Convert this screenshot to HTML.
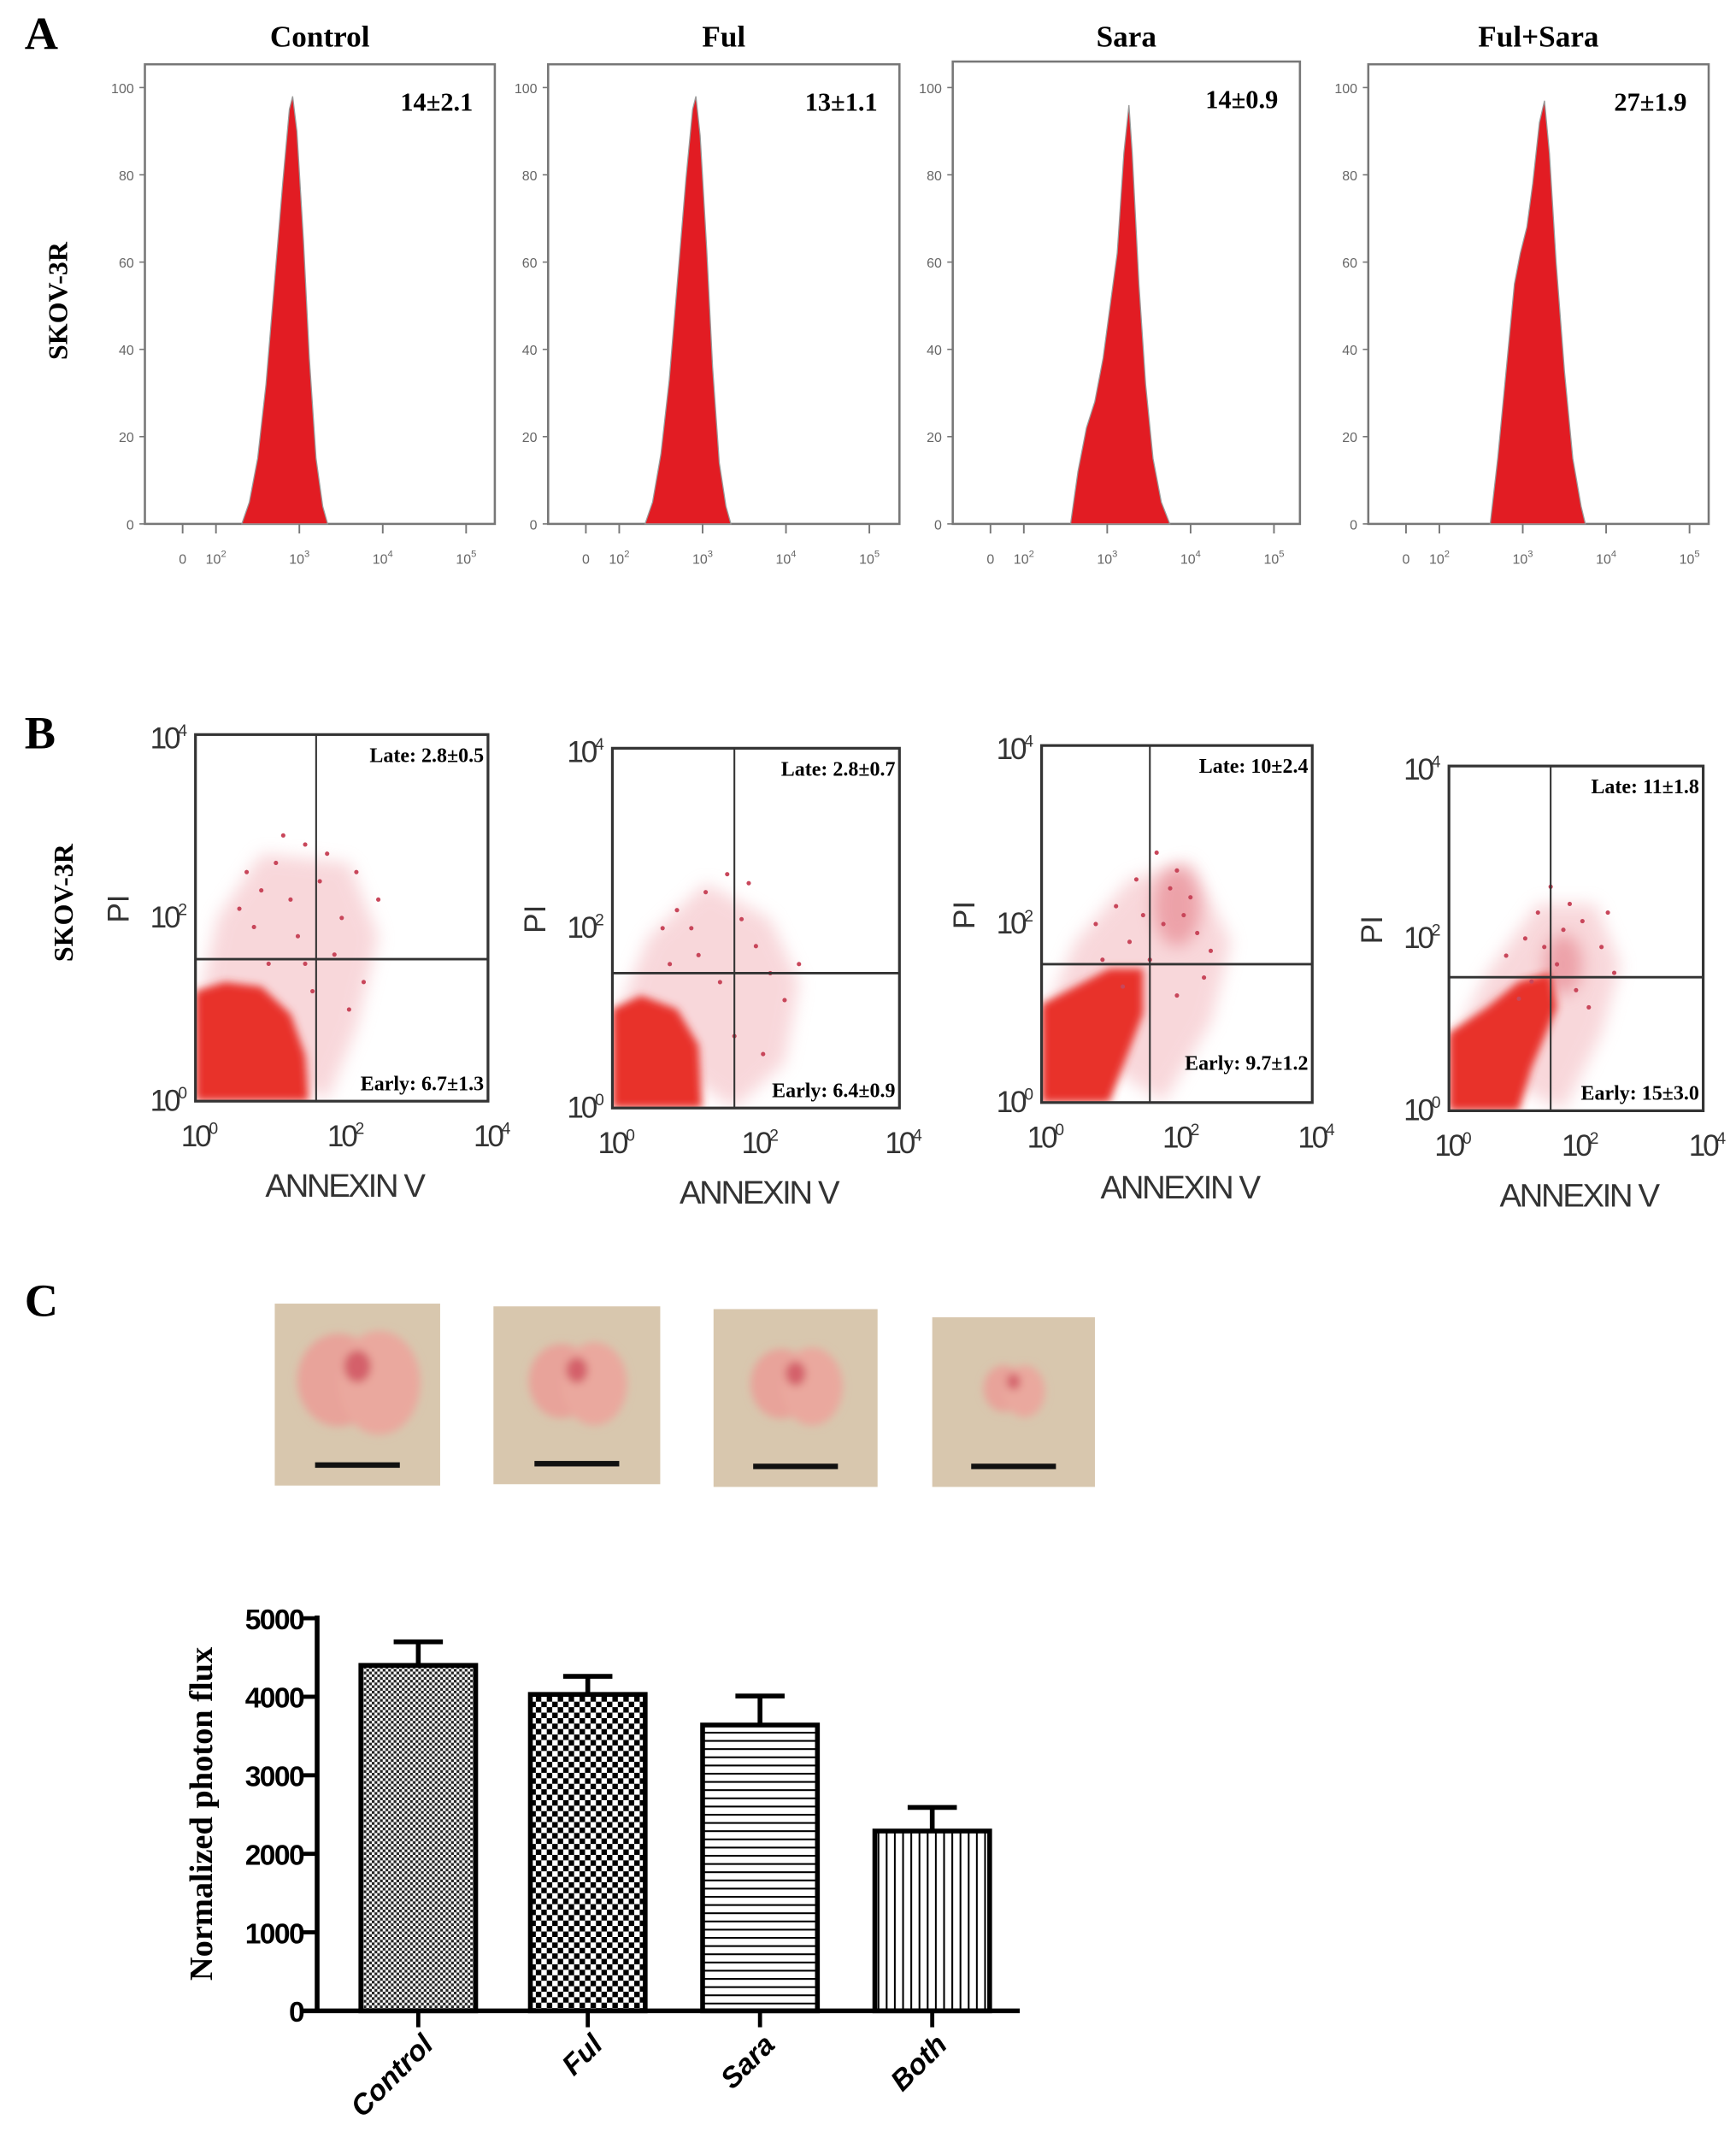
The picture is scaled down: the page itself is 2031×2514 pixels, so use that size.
<!DOCTYPE html>
<html><head><meta charset="utf-8">
<style>
html,body{margin:0;padding:0;background:#fff;}
svg{display:block;}
text{font-family:"Liberation Serif",serif;}
.sans{font-family:"Liberation Sans",sans-serif;}
</style></head>
<body>
<svg id="fig" width="2031" height="2514" viewBox="0 0 1270 1571" preserveAspectRatio="none" xmlns="http://www.w3.org/2000/svg">
<defs>
 <pattern id="pFine" width="4" height="4" patternUnits="userSpaceOnUse"><rect width="4" height="4" fill="#fff"/><rect width="2" height="2" fill="#222"/><rect x="2" y="2" width="2" height="2" fill="#222"/></pattern>
 <pattern id="pCoarse" width="8" height="8" patternUnits="userSpaceOnUse"><rect width="8" height="8" fill="#fff"/><rect width="4" height="4" fill="#000"/><rect x="4" y="4" width="4" height="4" fill="#000"/></pattern>
 <pattern id="pHoriz" width="6" height="6" patternUnits="userSpaceOnUse"><rect width="6" height="6" fill="#fff"/><rect width="6" height="1.3" fill="#000"/></pattern>
 <pattern id="pVert" width="6" height="6" patternUnits="userSpaceOnUse"><rect width="6" height="6" fill="#fff"/><rect width="1.3" height="6" fill="#000"/></pattern>
 <filter id="blur2" x="-50%" y="-50%" width="200%" height="200%"><feGaussianBlur stdDeviation="3"/></filter>
 <filter id="blur6" x="-50%" y="-50%" width="200%" height="200%"><feGaussianBlur stdDeviation="6"/></filter>
</defs>
<g id="gA"></g>
<g id="gB"></g>
<g id="gC"></g>
<g id="gD"></g>
</svg>
<script>
// ---------- Panel A data ----------
const histTitles = ["Control","Ful","Sara","Ful+Sara"];
const histStats = ["14\u00b12.1","13\u00b11.1","14\u00b10.9","27\u00b11.9"];
const histLog0 = [2.31,2.4,2.5,2.6,2.7,2.8,2.88,2.92,2.97,3.05,3.12,3.2,3.28,3.34];
const histCnt0 = [0,5,15,32,55,78,95,98,90,65,38,15,4,0];
const histLog1 = [2.31,2.4,2.5,2.6,2.7,2.8,2.88,2.92,2.97,3.05,3.12,3.2,3.28,3.34];
const histCnt1 = [0,5,16,33,56,79,95,98,89,63,36,14,4,0];
const histLog2 = [2.56,2.65,2.75,2.85,2.95,3.05,3.12,3.2,3.26,3.3,3.38,3.46,3.55,3.65,3.75];
const histCnt2 = [0,12,22,28,38,52,62,85,96,85,55,32,15,5,0];
const histLog3 = [2.61,2.7,2.8,2.9,2.97,3.05,3.12,3.2,3.26,3.32,3.4,3.5,3.6,3.7,3.75];
const histCnt3 = [0,15,35,55,62,68,78,92,97,85,60,35,15,4,0];
const histYTicks = [0,20,40,60,80,100];
const histXTicks = ["0","10","10","10","10"];
const histXExp = ["","2","3","4","5"];
const histXLog = [1.6,2,3,4,5];

// ---------- Panel B data ----------
const lateLabels = ["Late: 2.8\u00b10.5","Late: 2.8\u00b10.7","Late: 10\u00b12.4","Late: 11\u00b11.8"];
const earlyLabels = ["Early: 6.7\u00b11.3","Early: 6.4\u00b10.9","Early: 9.7\u00b11.2","Early: 15\u00b13.0"];
// dense cluster polygons [logX, logY]
const dense0 = [[0,0],[0,1.2],[0.4,1.3],[0.9,1.25],[1.3,0.95],[1.5,0.5],[1.55,0]];
const dense1 = [[0,0],[0,1.1],[0.4,1.25],[0.9,1.1],[1.2,0.7],[1.25,0]];
const dense2 = [[0,0],[0,1.1],[0.5,1.3],[1.0,1.5],[1.5,1.5],[1.5,1.0],[1.2,0.4],[1.0,0]];
const dense3 = [[0,0],[0,0.9],[0.6,1.2],[1.1,1.5],[1.6,1.6],[1.7,1.2],[1.3,0.5],[1.1,0]];
// lighter sparse halo polygons
const halo0 = [[0,0.9],[0.3,2.0],[0.9,2.7],[2.1,2.6],[2.5,1.8],[2.2,0.8],[1.8,0]];
const halo1 = [[0,0.9],[0.5,1.9],[1.3,2.5],[2.2,2.1],[2.6,1.4],[2.4,0.5],[1.7,0]];
const halo2 = [[0,0.9],[0.5,1.8],[1.3,2.5],[2.2,2.7],[2.8,1.8],[2.5,0.9],[1.8,0]];
const halo3 = [[0,0.7],[0.6,1.6],[1.4,2.4],[2.3,2.4],[2.7,1.7],[2.4,0.9],[1.8,0]];
// sparse points per plot [logX, logY]
const sparse0 = [[0.7,2.5],[0.9,2.3],[1.1,2.6],[1.3,2.2],[1.5,2.8],[1.7,2.4],[2.0,2.0],[2.2,2.5],[1.4,1.8],[0.8,1.9],[1.9,1.6],[2.3,1.3],[1.6,1.2],[2.5,2.2],[1.2,2.9],[0.6,2.1],[1.8,2.7],[2.1,1.0],[1.0,1.5],[1.5,1.5]];
const sparse1 = [[0.7,2.0],[0.9,2.2],[1.3,2.4],[1.6,2.6],[1.8,2.1],[2.0,1.8],[1.2,1.7],[2.2,1.5],[1.5,1.4],[2.4,1.2],[1.9,2.5],[1.1,2.0],[2.6,1.6],[0.8,1.6],[1.7,0.8],[2.1,0.6]];
const sparse2 = [[0.8,2.0],[1.1,2.2],[1.4,2.5],[1.7,2.8],[1.9,2.4],[2.1,2.1],[2.3,1.9],[1.6,1.6],[2.5,1.7],[1.3,1.8],[2.0,2.6],[1.8,2.0],[2.2,2.3],[0.9,1.6],[2.4,1.4],[1.5,2.1],[1.2,1.3],[2.0,1.2]];
const sparse3 = [[0.9,1.8],[1.2,2.0],[1.4,2.3],[1.6,2.6],[1.9,2.4],[2.1,2.2],[2.4,1.9],[1.7,1.7],[2.6,1.6],[1.3,1.5],[2.0,1.4],[1.8,2.1],[2.2,1.2],[1.1,1.3],[2.5,2.3],[1.5,1.9]];
// dense sub-cluster for Sara [logX, logY, rx, ry]
const subCluster = [null,null,[2.0,2.2,0.35,0.45],[1.8,1.7,0.3,0.35]];

// ---------- Bar chart data ----------
const barCats = ["Control","Ful","Sara","Both"];
const barVals = [4400,4030,3640,2290];
const barErr = [300,230,370,300];
const barTicks = [0,1000,2000,3000,4000,5000];
const barFills = ["url(#pFine)","url(#pCoarse)","url(#pHoriz)","url(#pVert)"];

const NS="http://www.w3.org/2000/svg";
function mk(tag,attrs,parent,txt){const e=document.createElementNS(NS,tag);for(const k in attrs)e.setAttribute(k,attrs[k]);if(txt!==undefined)e.textContent=txt;parent.appendChild(e);return e;}

// ---------- Panel A ----------
const gA=document.getElementById('gA');
let t=mk('text',{x:18,y:36,'font-size':34,'font-weight':'bold'},gA,'A');


t=mk('text',{x:0,y:0,'font-size':20,'font-weight':'bold','text-anchor':'middle',transform:'translate(49,220) rotate(-90)'},gA,'SKOV-3R');


const hBoxL=[106,401,697,1001], hBoxR=[362,658,951,1250], hBoxT=[47,47,45,47];
const hLogs=[histLog0,histLog1,histLog2,histLog3], hCnts=[histCnt0,histCnt1,histCnt2,histCnt3];
for(let p=0;p<4;p++){
  const L=hBoxL[p],R=hBoxR[p],T=hBoxT[p],B=383;
  const g=mk('g',{},gA);
  
  
  const xs=v=>L+52+(v-2)*61, ys=v=>B-v*3.19;
  t=mk('text',{x:(L+R)/2,y:34,'font-size':22,'font-weight':'bold','text-anchor':'middle'},g,histTitles[p]);
  
  
  const r=mk('rect',{x:L,y:T,width:R-L,height:B-T,fill:'none',stroke:'#777','stroke-width':1.6},g);
  
  
  let d='M'+xs(hLogs[p][0])+' '+B;
  hLogs[p].forEach((v,i)=>{d+=' L'+xs(v).toFixed(1)+' '+ys(hCnts[p][i]).toFixed(1);});
  d+=' Z';
  const ar=mk('path',{d:d,fill:'#e21c23',stroke:'#999','stroke-width':0.8},g);
  
  
  histYTicks.forEach(v=>{
    mk('line',{x1:L-4,x2:L,y1:ys(v),y2:ys(v),stroke:'#777','stroke-width':1},g);
    const tt=mk('text',{x:L-8,y:ys(v)+4,'font-size':10,'text-anchor':'end',fill:'#666',class:'sans'},g,String(v));
    
    
  });
  histXLog.forEach((v,i)=>{
    const x=xs(v);
    mk('line',{x1:x,x2:x,y1:B,y2:B+7,stroke:'#777','stroke-width':1.2},g);
    const tt=mk('text',{x:x,y:B+29,'font-size':10,'text-anchor':'middle',fill:'#666',class:'sans'},g,histXTicks[i]);
    
    
    if(histXExp[i]) mk('tspan',{'font-size':7,dy:-5},tt,histXExp[i]);
  });
  t=mk('text',{x:R-16,y:T+34,'font-size':19,'font-weight':'bold','text-anchor':'end'},g,histStats[p]);
  
  
}

// ---------- Panel B ----------
const gB=document.getElementById('gB');
t=mk('text',{x:18,y:547,'font-size':34,'font-weight':'bold'},gB,'B');


t=mk('text',{x:0,y:0,'font-size':20,'font-weight':'bold','text-anchor':'middle',transform:'translate(53,660) rotate(-90)'},gB,'SKOV-3R');


const sL=[143,448,762,1060], sR=[357,658,960,1246], sT=[537,547,545,560], sB=[805,810,806,812];
const qV=[1.65,1.7,1.6,1.6], qH=[1.55,1.5,1.55,1.55];
const sparseAll=[sparse0,sparse1,sparse2,sparse3];
const denseAll=[dense0,dense1,dense2,dense3], haloAll=[halo0,halo1,halo2,halo3];
for(let p=0;p<4;p++){
  const L=sL[p],R=sR[p],T=sT[p],B=sB[p];
  const g=mk('g',{},gB);
  
  
  const xs=v=>L+v*(R-L)/4, ys=v=>B-v*(B-T)/4;
  const cp=mk('clipPath',{id:'clip'+p},g);
  mk('rect',{x:L,y:T,width:R-L,height:B-T},cp);
  const cg=mk('g',{'clip-path':'url(#clip'+p+')'},g);
  const poly=a=>a.map(q=>xs(q[0]).toFixed(1)+','+ys(q[1]).toFixed(1)).join(' ');
  const hl=mk('polygon',{points:poly(haloAll[p]),fill:'#f3b7bd',opacity:0.55,filter:'url(#blur6)'},cg);
  
  
  const sc=subCluster[p];
  if(sc){
    const se=mk('ellipse',{cx:xs(sc[0]),cy:ys(sc[1]),rx:sc[2]*(R-L)/4,ry:sc[3]*(B-T)/4,fill:'#e57f88',opacity:0.6,filter:'url(#blur6)'},cg);
    
    
  }
  const dn=mk('polygon',{points:poly(denseAll[p]),fill:'#e8302c',filter:'url(#blur2)'},cg);
  
  
  sparseAll[p].forEach(pt=>{
    const dt=mk('circle',{cx:xs(pt[0]),cy:ys(pt[1]),r:1.6,fill:'#c8465a'},cg);
    
    
  });
  const fr=mk('rect',{x:L,y:T,width:R-L,height:B-T,fill:'none',stroke:'#333','stroke-width':2},g);
  
  
  const v=mk('line',{x1:xs(qV[p]),x2:xs(qV[p]),y1:T,y2:B,stroke:'#333','stroke-width':1.3},g);
  
  
  const h=mk('line',{x1:L,x2:R,y1:ys(qH[p]),y2:ys(qH[p]),stroke:'#333','stroke-width':1.8},g);
  
  
  [0,2,4].forEach(e=>{
    let tt=mk('text',{x:L-8,y:ys(e)+(e===4?10:7),'font-size':22,'text-anchor':'end',fill:'#333',class:'sans','letter-spacing':'-2'},g,'10');
    mk('tspan',{'font-size':12,dy:-9},tt,String(e));
    
    
    tt=mk('text',{x:xs(e)+2,y:B+33,'font-size':22,'text-anchor':'middle',fill:'#333',class:'sans','letter-spacing':'-2'},g,'10');
    mk('tspan',{'font-size':12,dy:-9},tt,String(e));
    
    
  });
  t=mk('text',{x:(L+R)/2+2,y:B+70,'font-size':24,'text-anchor':'middle',fill:'#333',class:'sans','letter-spacing':'-1.5'},g,'ANNEXIN V');
  
  
  t=mk('text',{x:0,y:0,'font-size':22,'text-anchor':'middle',fill:'#333',class:'sans',transform:'translate('+(L-49)+','+ys(2.1)+') rotate(-90)'},g,'PI');
  
  
  t=mk('text',{x:R-3,y:T+20,'font-size':15,'font-weight':'bold','text-anchor':'end'},g,lateLabels[p]);
  
  
  t=mk('text',{x:R-3,y:B-8-(p===2?16:0),'font-size':15,'font-weight':'bold','text-anchor':'end'},g,earlyLabels[p]);
  
  
}

// ---------- Panel C photos ----------
const gC=document.getElementById('gC');
t=mk('text',{x:18,y:962,'font-size':34,'font-weight':'bold'},gC,'C');


const ph=[[201,953,121,133,1.0],[361,955,122,130,0.8],[522,957,120,130,0.75],[682,963,119,124,0.5]];
ph.forEach((q,i)=>{
  const g=mk('g',{},gC);
  
  
  mk('rect',{x:q[0],y:q[1],width:q[2],height:q[3],fill:'#d8c7ae'},g);
  const cx=q[0]+q[2]/2, cy=q[1]+q[3]*0.42, s=q[4];
  const bl=mk('g',{filter:'url(#blur2)'},g);
  mk('ellipse',{cx:cx-14*s,cy:cy,rx:30*s,ry:34*s,fill:'#e8a39a'},bl);
  mk('ellipse',{cx:cx+16*s,cy:cy+2,rx:30*s,ry:38*s,fill:'#eaa89e'},bl);
  mk('ellipse',{cx:cx,cy:cy-10*s,rx:10*s,ry:12*s,fill:'#d4606a'},bl);
  const sb=mk('rect',{x:cx-31,y:q[1]+q[3]-17,width:62,height:4,fill:'#111'},g);
  
  
});

// ---------- Bar chart ----------
const gD=document.getElementById('gD');
const y0=1470, yTop=1183, axX=232;
const yS=v=>y0-v*(y0-yTop)/5000;
const barL=[264,388,514,640], barW=84;
barVals.forEach((v,i)=>{
  const x=barL[i];
  const eb=mk('path',{d:'M'+(x+barW/2)+' '+yS(v)+' V'+yS(v+barErr[i])+' M'+(x+barW/2-18)+' '+yS(v+barErr[i])+' H'+(x+barW/2+18),stroke:'#000','stroke-width':3.5,fill:'none'},gD);
  
  
  const b=mk('rect',{x:x,y:yS(v),width:barW,height:y0-yS(v),fill:barFills[i],stroke:'#000','stroke-width':3.5},gD);
  
  
  mk('line',{x1:x+barW/2,x2:x+barW/2,y1:y0,y2:y0+12,stroke:'#000','stroke-width':3},gD);
  const tt=mk('text',{x:0,y:0,'font-size':21,'font-weight':'bold','font-style':'italic','text-anchor':'end',class:'sans',transform:'translate('+(x+barW/2+12)+','+(y0+26)+') rotate(-45)'},gD,barCats[i]);
  
  
});
let ax=mk('line',{x1:axX,x2:axX,y1:yTop-2,y2:y0,stroke:'#000','stroke-width':3.5},gD);


ax=mk('line',{x1:axX-12,x2:746,y1:y0,y2:y0,stroke:'#000','stroke-width':3.5},gD);


barTicks.forEach(v=>{
  mk('line',{x1:axX-10,x2:axX,y1:yS(v),y2:yS(v),stroke:'#000','stroke-width':3},gD);
  const tt=mk('text',{x:axX-10,y:yS(v)+8,'font-size':21,'font-weight':'bold','text-anchor':'end',class:'sans','letter-spacing':'-1'},gD,String(v));
  
  
});
t=mk('text',{x:0,y:0,'font-size':24,'font-weight':'bold','text-anchor':'middle',transform:'translate(155,1326) rotate(-90)'},gD,'Normalized photon flux');


</script>
</body></html>
